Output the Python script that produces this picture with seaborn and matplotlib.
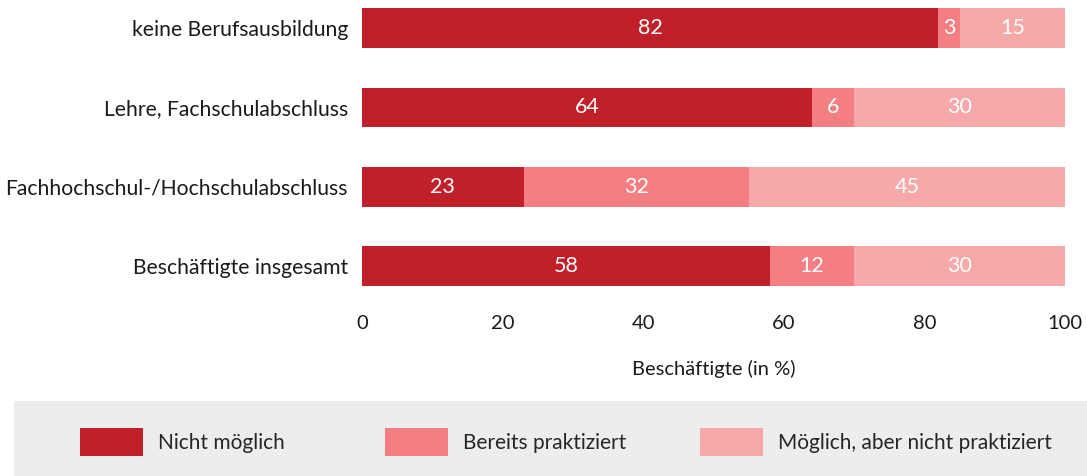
import matplotlib.pyplot as plt
import pandas as pd
import seaborn as sns
from matplotlib.patches import Patch, Rectangle

# data
categories = [
    "keine Berufsausbildung",
    "Lehre, Fachschulabschluss",
    "Fachhochschul-/Hochschulabschluss",
    "Beschäftigte insgesamt",
]
nicht_moeglich = [82, 64, 23, 58]
bereits_praktiziert = [3, 6, 32, 12]
moeglich_nicht_praktiziert = [15, 30, 45, 30]
series_names = ["Nicht möglich", "Bereits praktiziert", "Möglich, aber nicht praktiziert"]
colors = ["#C0202A", "#F47F82", "#F7A9AA"]
x_ticks = [0, 20, 40, 60, 80, 100]

sns.set_theme(style="white")
plt.rcParams["font.family"] = ["Lato", "DejaVu Sans"]

df = pd.DataFrame({
    "kategorie": categories,
    "s1": nicht_moeglich,
    "s2": bereits_praktiziert,
    "s3": moeglich_nicht_praktiziert,
})
df["c1"] = df["s1"]
df["c2"] = df["s1"] + df["s2"]
df["c3"] = df["c2"] + df["s3"]

fig = plt.figure(figsize=(10.87, 4.76), dpi=100)
ax = fig.add_axes([362 / 1087, 1 - 305 / 476, (1065 - 362) / 1087, 305 / 476])

# stacked bars: draw cumulative totals back to front
for col, color in zip(["c3", "c2", "c1"], colors[::-1]):
    sns.barplot(data=df, x=col, y="kategorie", order=categories, color=color,
                width=0.5, ax=ax, saturation=1, edgecolor="none")

# segment labels
for i, row in df.iterrows():
    starts = [0, row["c1"], row["c2"]]
    for start, val in zip(starts, [row["s1"], row["s2"], row["s3"]]):
        ax.text(start + val / 2, i, f"{val}", ha="center", va="center",
                color="white", fontsize=15.5)

ax.set_xlim(0, 100)
ax.set_ylim(3.49, -0.353)
ax.set_xticks(x_ticks)
ax.set_xticklabels([str(t) for t in x_ticks], fontsize=14.5, color="#1a1a1a")
ax.tick_params(axis="y", labelsize=15.2, length=0, pad=10, labelcolor="#1a1a1a")
ax.tick_params(axis="x", length=0, pad=7)
ax.set_xlabel("Beschäftigte (in %)", fontsize=14.5, labelpad=20, color="#1a1a1a")
ax.set_ylabel("")
sns.despine(ax=ax, left=True, bottom=True)

# legend panel
fig.add_artist(Rectangle((14 / 1087, 0), 1 - 14 / 1087, 75 / 476,
                         transform=fig.transFigure, facecolor="#EDEDED",
                         edgecolor="none", zorder=0))
legend_x = [80, 385, 700]
for name, color, lx in zip(series_names, colors, legend_x):
    fig.legend(handles=[Patch(facecolor=color, edgecolor="none", label=name)],
               loc="center left", bbox_to_anchor=(lx / 1087, 1 - 442 / 476),
               frameon=False, fontsize=15, handlelength=3.0, handleheight=1.7,
               handletextpad=0.75, borderpad=0, borderaxespad=0)

fig.savefig("out.png", dpi=100)
